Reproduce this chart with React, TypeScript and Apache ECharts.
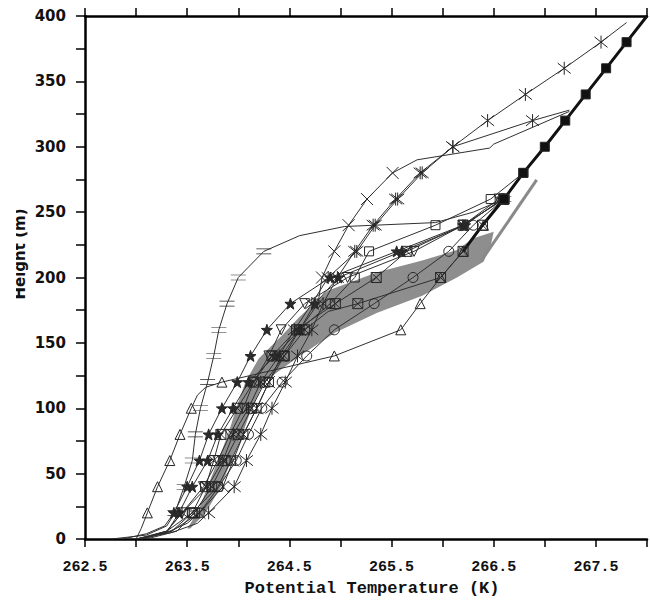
import React, { useEffect, useRef } from "react";
import * as echarts from "echarts";

// ---- data: [potential temperature (K), height (m)] ----
const triUp: number[][] = [[263.0,0],[263.05,8],[263.11,20],[263.21,40],[263.33,60],[263.43,80],[263.54,100],[263.6,110],[263.68,116],[263.84,120],[264.94,140],[265.59,160],[265.78,180],[265.98,200],[266.2,220],[266.4,240],[266.6,260]];
const eqLine: number[][] = [[262.76,0],[263.1,3],[263.3,10],[263.38,20],[263.47,40],[263.55,60],[263.58,80],[263.63,100],[263.7,120],[263.76,140],[263.81,160],[263.89,180],[264.0,200],[264.25,220],[264.6,232],[265.04,239],[265.93,242],[266.3,250],[266.6,260]];
const starLeft: number[][] = [[262.87,0],[263.1,4],[263.28,10],[263.37,20],[263.5,40],[263.62,60],[263.71,80],[263.84,100],[263.99,120],[264.12,140],[264.28,160],[264.51,180],[264.9,200],[265.55,220],[266.2,240],[266.6,260]];
const starMid: number[][] = [[263.05,0],[263.3,5],[263.42,20],[263.55,40],[263.7,60],[263.8,80],[263.95,100],[264.1,120],[264.36,140],[264.6,160],[264.75,180],[264.98,200],[265.6,220],[266.22,240],[266.58,260]];
const astA: number[][] = [[263.0,0],[263.35,5],[263.6,12],[263.71,20],[263.96,40],[264.08,60],[264.22,80],[264.33,100],[264.46,120],[264.58,140],[264.72,160],[264.83,180],[264.97,200],[265.14,220],[265.32,240],[265.54,260],[265.78,280],[266.1,300],[266.44,320],[266.81,340],[267.19,360],[267.55,380],[267.8,395]];
const astB: number[][] = [[263.05,0],[263.3,6],[263.45,20],[263.7,40],[263.85,60],[263.95,80],[264.1,100],[264.22,120],[264.4,140],[264.55,160],[264.72,180],[264.88,200],[265.16,220],[265.34,240],[265.56,260],[265.8,280],[266.1,300],[266.88,320],[267.24,328]];
const crossX: number[][] = [[263.0,0],[263.3,5],[263.5,12],[263.62,20],[263.85,40],[263.95,60],[264.05,80],[264.18,100],[264.3,120],[264.42,140],[264.6,160],[264.78,180],[264.82,200],[264.94,220],[265.08,240],[265.26,260],[265.51,280],[265.75,290],[266.46,299],[266.5,302],[267.24,327]];
const circ: number[][] = [[263.05,0],[263.35,6],[263.62,20],[263.81,40],[263.98,60],[264.1,80],[264.23,100],[264.43,120],[264.67,140],[264.94,160],[265.33,180],[265.71,200],[266.06,220],[266.3,240],[266.6,260]];
const boxXA: number[][] = [[263.0,0],[263.3,6],[263.55,20],[263.68,40],[263.76,60],[263.83,80],[263.99,100],[264.15,120],[264.33,140],[264.57,160],[264.95,180],[265.35,200],[265.65,220],[266.2,240],[266.6,260]];
const boxXB: number[][] = [[263.1,0],[263.4,6],[263.57,20],[263.74,40],[263.87,60],[264.0,80],[264.13,100],[264.26,120],[264.45,140],[264.65,160],[264.88,174],[265.17,180],[265.98,200],[266.2,220],[266.39,240],[266.6,260]];
const triDown: number[][] = [[263.02,0],[263.3,6],[263.45,20],[263.66,40],[263.8,60],[263.92,80],[264.05,100],[264.15,120],[264.3,140],[264.42,160],[264.65,180],[265.07,200],[265.72,220],[266.2,240],[266.55,260]];
const square: number[][] = [[263.05,0],[263.35,6],[263.55,20],[263.8,40],[263.93,60],[264.05,80],[264.18,100],[264.3,120],[264.45,140],[264.6,160],[264.9,180],[265.14,200],[265.28,220],[265.93,240],[266.47,260],[266.79,280]];
const observed: number[][] = [[266.2,220],[266.39,240],[266.6,260],[266.79,280],[267.0,300],[267.2,320],[267.4,340],[267.6,360],[267.8,380],[268.0,400]];
const bandEdge: number[][] = [[263.5,8],[263.6,20],[263.7,40],[263.8,60],[263.9,80],[263.98,100],[264.07,120],[264.2,138],[264.42,155],[264.6,170],[264.88,190],[265.36,204],[265.8,213],[266.14,221],[266.3,230],[266.5,235],[266.47,224],[266.4,212],[266.14,200],[265.8,186],[265.36,173],[264.95,158],[264.6,140],[264.25,120],[264.13,100],[264.04,80],[263.93,60],[263.83,40],[263.68,20],[263.53,8]];
const bandMean: number[][] = [[266.38,213],[266.92,274.6]];

const LINE = "#303030";
const HOLLOW = "rgba(0,0,0,0)";
const SYM = {
  tri: { symbol: "triangle", size: 10, fill: HOLLOW },
  triDown: { symbol: "path://M0,0L10,0L5,9Z", size: 10, fill: HOLLOW },
  circ: { symbol: "circle", size: 10, fill: HOLLOW },
  sq: { symbol: "rect", size: 9, fill: HOLLOW },
  boxX: { symbol: "path://M0,0L10,0L10,10L0,10ZM0,0L10,10M10,0L0,10", size: 10, fill: HOLLOW },
  cross: { symbol: "path://M0,0L10,10M10,0L0,10", size: 12, fill: HOLLOW },
  ast: { symbol: "path://M0,1L10,9M10,1L0,9M5,0L5,10", size: 13, fill: HOLLOW },
  star: { symbol: "path://M5,0L6.2,3.5L10,3.6L7,5.9L8.1,9.5L5,7.4L1.9,9.5L3,5.9L0,3.6L3.8,3.5Z", size: 11, fill: "#2b2b2b" },
  eq: { symbol: "path://M0,0L14,0M0,5L14,5", size: [15, 5], fill: HOLLOW },
};

function profile(pts: number[][], s: any, width = 1, color = LINE, markAt?: (h: number) => boolean) {
  const test = markAt || ((h: number) => h > 0 && h % 20 === 0);
  return {
    type: "line",
    z: 3,
    silent: true,
    showAllSymbol: true,
    data: pts.map(([x, h]) => ({ value: [x, h], symbol: test(h) ? s.symbol : "none" })),
    symbolSize: s.size,
    lineStyle: { color, width },
    itemStyle: { color: s.fill, borderColor: "#262626", borderWidth: 1 },
    emphasis: { disabled: true },
  };
}

export default function App() {
  const ref = useRef<HTMLDivElement>(null);
  useEffect(() => {
    if (!ref.current) return;
    const chart = echarts.init(ref.current, null, { renderer: "svg" });
    const xAxisCommon = {
      type: "value",
      min: 262.5,
      max: 268,
      interval: 0.5,
      splitLine: { show: false },
      axisLine: { show: true, lineStyle: { color: "#000", width: 2.5 } },
      axisTick: { show: true, inside: false, length: 8, lineStyle: { color: "#000", width: 1.5 } },
    };
    chart.setOption({
      animation: false,
      grid: { left: 85, right: 1, top: 16, bottom: 65, containLabel: false },
      xAxis: [
        {
          ...xAxisCommon,
          position: "bottom",
          axisLabel: {
            margin: 21,
            fontFamily: "Liberation Mono",
            fontWeight: "bold",
            fontSize: 15,
            color: "#111",
            formatter: (v: number) => (Math.abs((v - 262.5) % 1) < 1e-6 ? v.toFixed(1) : ""),
          },
        },
        { ...xAxisCommon, position: "top", axisLabel: { show: false } },
      ],
      yAxis: {
        type: "value",
        min: 0,
        max: 400,
        interval: 25,
        splitLine: { show: false },
        axisLine: { show: true, lineStyle: { color: "#000", width: 2.5 } },
        axisTick: { show: true, inside: false, length: 9, lineStyle: { color: "#000", width: 1.5 } },
        axisLabel: {
          margin: 19,
          fontFamily: "DejaVu Sans",
          fontWeight: "bold",
          fontSize: 15,
          color: "#111",
          formatter: (v: number) => (v % 50 === 0 ? String(v) : ""),
        },
      },
      graphic: [
        {
          type: "text",
          x: 372,
          y: 588,
          z: 10,
          style: {
            text: "Potential Temperature (K)",
            font: "bold 17px 'Liberation Mono'",
            fill: "#111",
            textAlign: "center",
            textVerticalAlign: "middle",
          },
        },
        {
          type: "text",
          x: 27,
          y: 254,
          rotation: Math.PI / 2,
          z: 10,
          style: {
            text: "Height (m)",
            font: "bold 15px 'DejaVu Sans'",
            fill: "#111",
            textAlign: "center",
            textVerticalAlign: "bottom",
          },
        },
        { type: "rect", z: 11, shape: { x: 0, y: 195, width: 16, height: 120 }, style: { fill: "#fff" } },
      ],
      series: [
        {
          type: "custom",
          z: 1,
          silent: true,
          data: [[265, 200]],
          renderItem: (_p: any, api: any) => ({
            type: "polygon",
            shape: { points: bandEdge.map((p) => api.coord(p)) },
            style: { fill: "#8e8e8e" },
          }),
        },
        {
          type: "line",
          z: 2,
          silent: true,
          symbol: "none",
          data: bandMean,
          lineStyle: { color: "#8a8a8a", width: 3 },
        },
        profile(triUp, SYM.tri),
        profile(eqLine, SYM.eq),
        profile(starLeft, SYM.star),
        profile(starMid, SYM.star),
        profile(astA, SYM.ast),
        profile(astB, SYM.ast),
        profile(crossX, SYM.cross),
        profile(circ, SYM.circ),
        profile(boxXA, SYM.boxX),
        profile(boxXB, SYM.boxX),
        profile(triDown, SYM.triDown),
        profile(square, SYM.sq),
        profile(observed, { symbol: "rect", size: 9, fill: "#111" }, 3, "#111", (h: number) => h >= 260 && h < 400),
      ],
    });
    return () => chart.dispose();
  }, []);
  return <div ref={ref} style={{ width: 650, height: 604, position: "absolute", left: 0, top: 0 }} />;
}
